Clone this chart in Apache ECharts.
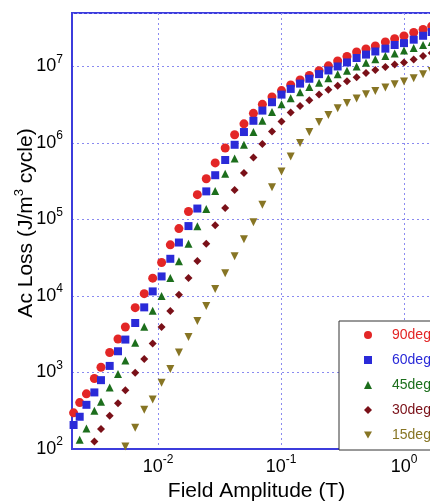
<!DOCTYPE html>
<html>
<head>
<meta charset="utf-8">
<script src="https://cdn.jsdelivr.net/npm/echarts@6/dist/echarts.min.js"></script>
<style>
html,body{margin:0;padding:0;background:#fff;}
#chart{width:430px;height:502px;}
</style>
</head>
<body>
<div id="chart"></div>
<script>
// Field amplitude (T)
const fieldAmplitude = [0.00206, 0.00231, 0.00262, 0.00304, 0.00344, 0.00405, 0.00473, 0.00543, 0.00653, 0.00773,
  0.00906, 0.0107, 0.0126, 0.0148, 0.0177, 0.0209, 0.0247, 0.0292, 0.0352, 0.0420,
  0.0500, 0.0597, 0.0706, 0.0845, 0.101, 0.120, 0.143, 0.170, 0.204, 0.243,
  0.289, 0.344, 0.412, 0.491, 0.585, 0.706, 0.840, 1.00, 1.20, 1.43, 1.68];

// Ac loss (J/m^3 cycle)
const loss90 = [297, 404, 526, 835, 1172, 1823, 2742, 3930, 7040, 10720,
  17120, 27420, 46650, 76100, 1.27e5, 2.11e5, 3.41e5, 5.49e5, 8.61e5, 1.28e6,
  1.78e6, 2.44e6, 3.20e6, 4.00e6, 4.84e6, 5.74e6, 6.67e6, 7.63e6, 8.82e6, 1.02e7,
  1.18e7, 1.35e7, 1.55e7, 1.69e7, 1.85e7, 2.09e7, 2.30e7, 2.50e7, 2.78e7, 3.04e7, 3.37e7];
const loss60 = [206, 264, 378, 549, 794, 1219, 1895, 2693, 4433, 7100,
  11480, 18010, 30640, 49980, 82000, 1.39e5, 2.33e5, 3.79e5, 5.99e5, 9.47e5,
  1.39e6, 1.95e6, 2.65e6, 3.41e6, 4.29e6, 5.09e6, 5.97e6, 6.91e6, 7.94e6, 8.87e6,
  1.00e7, 1.13e7, 1.29e7, 1.43e7, 1.57e7, 1.71e7, 1.91e7, 2.02e7, 2.24e7, 2.52e7, 2.82e7];
const loss45 = [null, 132, 186, 316, 414, 637, 956, 1434, 2446, 3955,
  6430, 10030, 17220, 28510, 48080, 81540, 1.375e5, 2.35e5, 3.97e5, 6.28e5,
  9.47e5, 1.39e6, 1.95e6, 2.55e6, 3.22e6, 3.85e6, 4.61e6, 5.40e6, 6.15e6, 7.02e6,
  7.91e6, 8.82e6, 1.00e7, 1.12e7, 1.24e7, 1.37e7, 1.48e7, 1.62e7, 1.74e7, 1.91e7, 2.09e7];
const loss30 = [null, null, null, 125, 183, 272, 396, 584, 994, 1504,
  2395, 3920, 6355, 10400, 17220, 28680, 48080, 83780, 1.416e5, 2.43e5,
  4.05e5, 6.47e5, 9.68e5, 1.41e6, 1.91e6, 2.50e6, 3.05e6, 3.63e6, 4.29e6, 4.97e6,
  5.60e6, 6.41e6, 7.23e6, 8.23e6, 9.00e6, 9.85e6, 1.06e7, 1.13e7, 1.23e7, 1.37e7, 1.50e7];
const loss15 = [null, null, null, null, null, null, null, 108, 190, 327,
  442, 732, 1114, 1823, 2902, 4708, 7383, 12300, 19890, 33130,
  55200, 91940, 1.56e5, 2.63e5, 4.25e5, 6.65e5, 1.00e6, 1.39e6, 1.88e6, 2.32e6,
  2.85e6, 3.32e6, 3.80e6, 4.34e6, 4.79e6, 5.32e6, 5.86e6, 6.37e6, 7.02e6, 7.91e6, 8.74e6];

const seriesNames = ['90deg', '60deg', '45deg', '30deg', '15deg'];
const seriesValues = [loss90, loss60, loss45, loss30, loss15];
const seriesColors = ['#e32626', '#2a2ad8', '#1c6e1c', '#7a1018', '#877524'];
const seriesSymbols = ['circle', 'rect', 'triangle', 'diamond', 'triangle'];
const seriesRotate = [0, 0, 0, 0, 180];
const seriesSizes = [9, 8, 8, 8, 8];
const legendIcons = ['circle', 'rect', 'triangle', 'diamond', 'path://M0,0L20,0L10,17Z'];

function pairs(vals) {
  const out = [];
  vals.forEach((v, i) => { if (v != null) out.push([fieldAmplitude[i], v]); });
  return out;
}

function powLabel(v) {
  const l = Math.log10(v);
  const e = Math.round(l);
  if (Math.abs(l - e) > 1e-6) return '';
  return '{b|10}{sup|' + e + '}';
}

const font = 'Liberation Sans, Arial, Helvetica, sans-serif';
const axisBlue = '#3c3cdc';
const gridBlue = '#8a8af0';
const richLbl = {
  b: { fontSize: 18, lineHeight: 26, color: '#000', fontFamily: font },
  sup: { fontSize: 12, lineHeight: 12, verticalAlign: 'top', color: '#000', fontFamily: font }
};

const chart = echarts.init(document.getElementById('chart'), null, { renderer: 'canvas' });
chart.setOption({
  backgroundColor: '#fff',
  animation: false,
  textStyle: { fontFamily: font },
  grid: { left: 72, top: 13, right: -11, bottom: 53, show: true, borderColor: axisBlue, borderWidth: 2,
    containLabel: false, outerBoundsMode: 'none' },
  xAxis: {
    type: 'log', logBase: 10, min: 0.002, max: 2,
    name: 'Field Amplitude (T)', nameLocation: 'middle', nameGap: 32, nameMoveOverlap: false,
    nameTextStyle: { fontSize: 21, color: '#000', fontFamily: font },
    axisLine: { show: true, lineStyle: { color: axisBlue, width: 2 } },
    axisTick: { show: false }, minorTick: { show: false },
    axisLabel: { margin: 5, formatter: powLabel, rich: richLbl, showMinLabel: false, showMaxLabel: false },
    splitLine: { show: true, lineStyle: { color: gridBlue, type: [2, 3], width: 1 } }
  },
  yAxis: {
    type: 'log', logBase: 10, min: 100, max: 5e7,
    name: 'Ac Loss (J/m{sup|3} cycle)', nameLocation: 'middle', nameGap: 33, nameMoveOverlap: false,
    nameTextStyle: { fontSize: 21, lineHeight: 26, color: '#000', fontFamily: font, padding: [0, 0, 0, 16],
      rich: { sup: { fontSize: 13, lineHeight: 13, verticalAlign: 'top', color: '#000', fontFamily: font } } },
    axisLine: { show: true, lineStyle: { color: axisBlue, width: 2 } },
    axisTick: { show: false }, minorTick: { show: false },
    axisLabel: { margin: 9, formatter: powLabel, rich: richLbl, showMaxLabel: false },
    splitLine: { show: true, lineStyle: { color: gridBlue, type: [2, 3], width: 1 } }
  },
  legend: {
    orient: 'vertical', left: 339, top: 321,
    padding: [7, 30, 8, 25], itemGap: 11, itemWidth: 8, itemHeight: 8,
    symbolKeepAspect: true,
    backgroundColor: '#fff', borderColor: '#333', borderWidth: 1,
    textStyle: { fontSize: 14, lineHeight: 14, fontFamily: font, padding: [0, 0, 0, 15] },
    data: seriesNames.map((n, i) => ({ name: n, icon: legendIcons[i],
      textStyle: { color: seriesColors[i], padding: [0, 0, 0, 15] } }))
  },
  series: seriesNames.map((n, i) => ({
    name: n, type: 'scatter',
    data: pairs(seriesValues[i]),
    symbol: seriesSymbols[i], symbolSize: seriesSizes[i], symbolRotate: seriesRotate[i],
    itemStyle: { color: seriesColors[i], opacity: 1 },
    clip: true
  }))
});
</script>
</body>
</html>
